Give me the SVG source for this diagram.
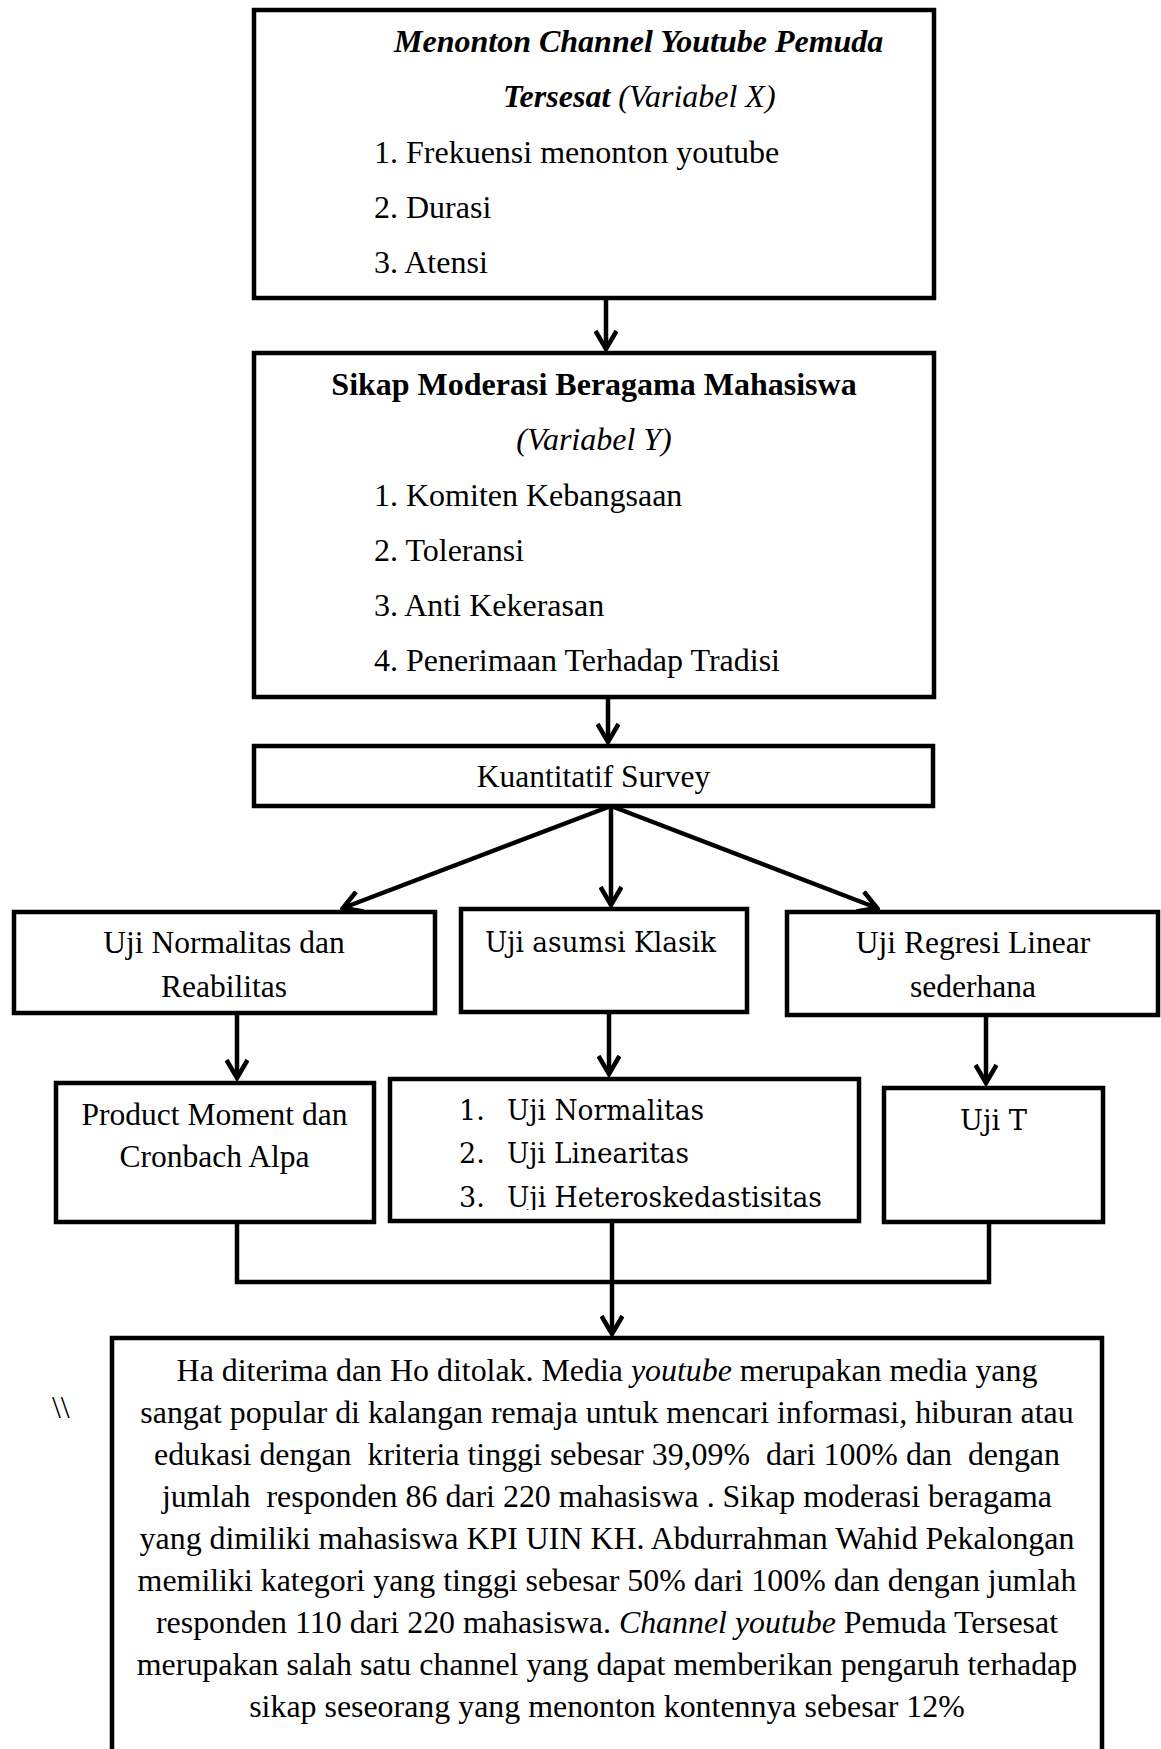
<svg xmlns="http://www.w3.org/2000/svg" width="1161" height="1749" viewBox="0 0 1161 1749">
<style>
.box{fill:#fff;stroke:#000;stroke-width:4.5;stroke-linejoin:miter}
.t{font-family:"Liberation Serif","Times New Roman",serif;font-size:31.5px;fill:#000}
.tb{font-family:"Liberation Serif","Times New Roman",serif;font-size:32px;fill:#000}
.c{font-family:"DejaVu Serif",serif;font-size:27px;fill:#000}
.bt{font-family:"Liberation Serif","Times New Roman",serif;font-size:31.9px;fill:#000}
.ln{fill:none;stroke:#000;stroke-width:4.5}
.ar{fill:none;stroke:#000;stroke-width:4.5;marker-end:url(#chev)}
</style>
<defs>
<marker id="chev" viewBox="0 0 24 24" refX="21" refY="12" markerWidth="24" markerHeight="24" markerUnits="userSpaceOnUse" orient="auto">
<path d="M3,1.5 L21,12 L3,22.5" fill="none" stroke="#000" stroke-width="4.5" stroke-linejoin="miter"/>
</marker>
<clipPath id="clipList"><rect x="390" y="1079" width="469" height="131"/></clipPath>
</defs>
<rect width="1161" height="1749" fill="#fff"/>

<g id="connectors">
<line class="ar" x1="606" y1="298" x2="606" y2="349"/>
<line class="ar" x1="608" y1="697" x2="608" y2="742"/>
<line class="ar" x1="611" y1="806" x2="343" y2="908"/>
<line class="ar" x1="611" y1="806" x2="611" y2="905"/>
<line class="ar" x1="611" y1="806" x2="877" y2="908"/>
<line class="ar" x1="237" y1="1013" x2="237" y2="1078"/>
<line class="ar" x1="609" y1="1012" x2="609" y2="1074"/>
<line class="ar" x1="986" y1="1015" x2="986" y2="1083"/>
<polyline class="ln" points="237,1222 237,1282 989,1282 989,1222"/>
<line class="ar" x1="612" y1="1221" x2="612" y2="1334"/>
</g>

<g id="node-x">
<rect class="box" x="254" y="10" width="680" height="288"/>
<text class="tb" x="394" y="52" font-weight="bold" font-style="italic">Menonton Channel Youtube Pemuda</text>
<text class="tb" x="503" y="107"><tspan font-weight="bold" font-style="italic">Tersesat</tspan><tspan font-style="italic"> (Variabel X)</tspan></text>
<text class="tb" x="374" y="163">1. Frekuensi menonton youtube</text>
<text class="tb" x="374" y="218">2. Durasi</text>
<text class="tb" x="374" y="273">3. Atensi</text>
</g>

<g id="node-y">
<rect class="box" x="254" y="353" width="680" height="344"/>
<text class="tb" x="594" y="395" text-anchor="middle" font-weight="bold">Sikap Moderasi Beragama Mahasiswa</text>
<text class="tb" x="594" y="450" text-anchor="middle" font-style="italic">(Variabel Y)</text>
<text class="tb" x="374" y="506">1. Komiten Kebangsaan</text>
<text class="tb" x="374" y="561">2. Toleransi</text>
<text class="tb" x="374" y="616">3. Anti Kekerasan</text>
<text class="tb" x="374" y="671">4. Penerimaan Terhadap Tradisi</text>
</g>

<g id="node-survey">
<rect class="box" x="254" y="746" width="679" height="60"/>
<text class="t" x="593.5" y="787" text-anchor="middle">Kuantitatif Survey</text>
</g>

<g id="node-normalitas">
<rect class="box" x="14" y="912" width="421" height="101"/>
<text class="t" x="224" y="953" text-anchor="middle">Uji Normalitas dan</text>
<text class="t" x="224" y="997" text-anchor="middle">Reabilitas</text>
</g>

<g id="node-asumsi">
<rect class="box" x="461" y="909" width="286" height="103"/>
<text class="c" x="485" y="952" textLength="231" lengthAdjust="spacingAndGlyphs">Uji asumsi Klasik</text>
</g>

<g id="node-regresi">
<rect class="box" x="787" y="912" width="371" height="103"/>
<text class="t" x="973" y="953" text-anchor="middle">Uji Regresi Linear</text>
<text class="t" x="973" y="997" text-anchor="middle">sederhana</text>
</g>

<g id="node-product">
<rect class="box" x="56" y="1083" width="318" height="139"/>
<text class="t" x="214.5" y="1125" text-anchor="middle">Product Moment dan</text>
<text class="t" x="214.5" y="1167" text-anchor="middle">Cronbach Alpa</text>
</g>

<g id="node-list">
<rect class="box" x="390" y="1079" width="469" height="142"/>
<g clip-path="url(#clipList)">
<text class="c" x="459" y="1120">1.</text>
<text class="c" x="507" y="1120" textLength="197" lengthAdjust="spacingAndGlyphs">Uji Normalitas</text>
<text class="c" x="459" y="1163">2.</text>
<text class="c" x="507" y="1163" textLength="182" lengthAdjust="spacingAndGlyphs">Uji Linearitas</text>
<text class="c" x="459" y="1207">3.</text>
<text class="c" x="507" y="1207" textLength="315" lengthAdjust="spacingAndGlyphs">Uji Heteroskedastisitas</text>
</g>
</g>

<g id="node-ujit">
<rect class="box" x="884" y="1088" width="219" height="134"/>
<text class="c" x="960" y="1130" textLength="67" lengthAdjust="spacingAndGlyphs">Uji T</text>
</g>

<g id="node-result">
<rect class="box" x="112" y="1338" width="990" height="500"/>
<text class="bt" x="607" y="1381" text-anchor="middle">Ha diterima dan Ho ditolak. Media <tspan font-style="italic">youtube</tspan> merupakan media yang</text>
<text class="bt" x="607" y="1423" text-anchor="middle">sangat popular di kalangan remaja untuk mencari informasi, hiburan atau</text>
<text class="bt" x="607" y="1465" text-anchor="middle" xml:space="preserve">edukasi dengan  kriteria tinggi sebesar 39,09%  dari 100% dan  dengan</text>
<text class="bt" x="607" y="1507" text-anchor="middle" xml:space="preserve">jumlah  responden 86 dari 220 mahasiswa . Sikap moderasi beragama</text>
<text class="bt" x="607" y="1549" text-anchor="middle">yang dimiliki mahasiswa KPI UIN KH. Abdurrahman Wahid Pekalongan</text>
<text class="bt" x="607" y="1591" text-anchor="middle">memiliki kategori yang tinggi sebesar 50% dari 100% dan dengan jumlah</text>
<text class="bt" x="607" y="1633" text-anchor="middle">responden 110 dari 220 mahasiswa. <tspan font-style="italic">Channel youtube</tspan> Pemuda Tersesat</text>
<text class="bt" x="607" y="1675" text-anchor="middle">merupakan salah satu channel yang dapat memberikan pengaruh terhadap</text>
<text class="bt" x="607" y="1717" text-anchor="middle">sikap seseorang yang menonton kontennya sebesar 12%</text>
</g>

<text class="bt" x="52" y="1418" font-size="28">\\</text>
</svg>
